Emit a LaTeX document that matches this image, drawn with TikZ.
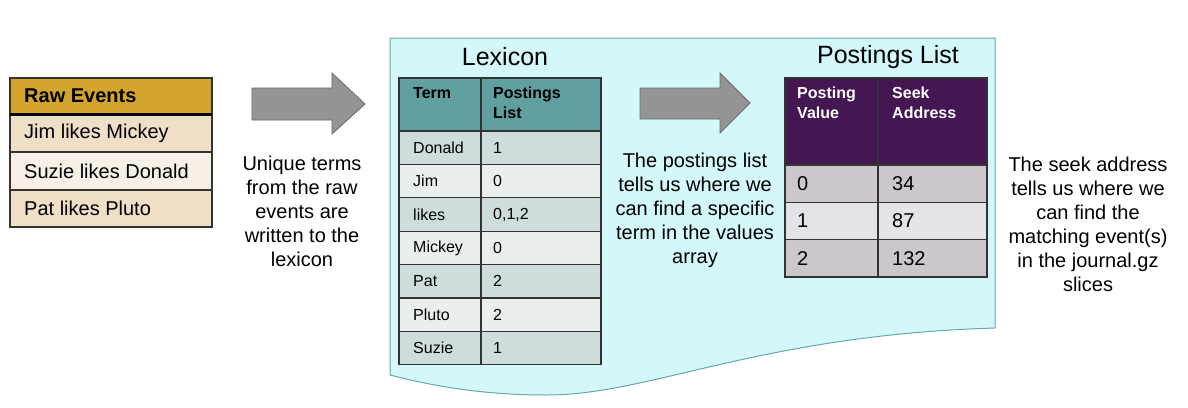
\documentclass[tikz,border=0pt]{standalone}
\usepackage{fontspec}
\setmainfont{Liberation Sans}
\definecolor{gold}{HTML}{D4A52C}
\definecolor{rawA}{HTML}{EEDFC6}
\definecolor{rawB}{HTML}{F6F0E7}
\definecolor{tealhd}{HTML}{609FA0}
\definecolor{lexA}{HTML}{CEDCDC}
\definecolor{lexB}{HTML}{E9EFEF}
\definecolor{purphd}{HTML}{441652}
\definecolor{posA}{HTML}{CBC7CC}
\definecolor{posB}{HTML}{E5E3E7}
\definecolor{cyanfill}{HTML}{D4F8F9}
\definecolor{cyanline}{HTML}{62A9AA}
\definecolor{linec}{HTML}{333333}
\definecolor{arrowfill}{HTML}{949494}
\definecolor{arrowline}{HTML}{6A6A6A}
\tikzset{
  cell/.style={draw=linec, line width=1.2pt, anchor=north west, inner sep=0pt, outer sep=0pt},
  celltxt/.style={anchor=west, inner sep=0pt, font=\fontsize{16}{19}\selectfont},
  bigtxt/.style={anchor=west, inner sep=0pt, font=\fontsize{20}{24}\selectfont},
  hdtxt/.style={anchor=north west, inner sep=0pt, align=left, font=\fontsize{16}{20}\selectfont\bfseries},
  note/.style={align=center, inner sep=0pt, font=\fontsize{20}{24}\selectfont},
  title/.style={inner sep=0pt, font=\fontsize{25}{30}\selectfont},
  bigarrow/.style={fill=arrowfill, draw=arrowline, line width=0.8pt, line join=miter},
  hdline/.style={line width=3pt, black}
}
\begin{document}
\begin{tikzpicture}[x=1pt,y=-1pt]
\useasboundingbox (0,0) rectangle (1188,407);

% cyan document shape
\draw[fill=cyanfill, draw=cyanline, line width=1pt]
  (390,38) -- (995,38) -- (995,328)
  .. controls (760,335) and (650,395) .. (547,395)
  .. controls (490,395) and (440,388) .. (390,375) -- cycle;

% Raw events table
\node[cell, fill=gold, minimum width=202, minimum height=36] (rawhd) at (10,78) {};
\node[cell, fill=rawA, minimum width=202, minimum height=38] (raw1) at (10,114) {};
\node[cell, fill=rawB, minimum width=202, minimum height=38] (raw2) at (10,152) {};
\node[cell, fill=rawA, minimum width=202, minimum height=37] (raw3) at (10,190) {};
\draw[hdline] (rawhd.south west) -- (rawhd.south east);
\node[bigtxt, font=\fontsize{20}{24}\selectfont\bfseries] (rawhdt) at ([xshift=14pt]rawhd.west) {Raw Events};
\node[bigtxt] (raw1t) at ([xshift=14pt]raw1.west) {Jim likes Mickey};
\node[bigtxt] (raw2t) at ([xshift=14pt]raw2.west) {Suzie likes Donald};
\node[bigtxt] (raw3t) at ([xshift=14pt]raw3.west) {Pat likes Pluto};

% arrow 1
\draw[bigarrow] (252,88) -- (332,88) -- (332,73) -- (365,104) -- (332,134) -- (332,120) -- (252,120) -- cycle;
\node[note] (note1) at (302,211) {Unique terms\\from the raw\\events are\\written to the\\lexicon};

% Lexicon
\node[title] (lextitle) at (505,57) {Lexicon};
\node[cell, fill=tealhd, minimum width=82, minimum height=53] (lexh1) at (399,78) {};
\node[cell, fill=tealhd, minimum width=120, minimum height=53] (lexh2) at (481,78) {};
\draw[hdline] (lexh1.south west) -- (lexh2.south east);
\node[hdtxt] (lexh1t) at ([xshift=14pt,yshift=-9pt]lexh1.north west) {Term};
\node[hdtxt] (lexh2t) at ([xshift=12pt,yshift=-9pt]lexh2.north west) {Postings\\List};

\foreach \i/\t/\v/\c in {0/Donald/1/lexA,1/Jim/0/lexB,2/likes/{0,1,2}/lexA,3/Mickey/0/lexB,4/Pat/2/lexA,5/Pluto/2/lexB,6/Suzie/1/lexA}{
  \node[cell, fill=\c, minimum width=82, minimum height=33.4] (lexa\i) at (399,131+33.4*\i) {};
  \node[cell, fill=\c, minimum width=120, minimum height=33.4] (lexb\i) at (481,131+33.4*\i) {};
  \node[celltxt] (lexat\i) at ([xshift=14pt]lexa\i.west) {\t};
  \node[celltxt] (lexbt\i) at ([xshift=12pt]lexb\i.west) {\v};
}

% arrow 2
\draw[bigarrow] (640,88) -- (720,88) -- (720,73) -- (750,103) -- (720,133) -- (720,119) -- (640,119) -- cycle;
\node[note] (note2) at (695,210) {The postings list\\tells us where we\\can find a specific\\term in the values\\array};

% Postings list
\node[title] (postitle) at (888,57) {Postings List};
\node[cell, fill=purphd, minimum width=93, minimum height=87] (posh1) at (785,78) {};
\node[cell, fill=purphd, minimum width=109, minimum height=87] (posh2) at (878,78) {};
\draw[hdline] (posh1.south west) -- (posh2.south east);
\node[hdtxt, text=white] (posh1t) at ([xshift=12pt,yshift=-9pt]posh1.north west) {Posting\\Value};
\node[hdtxt, text=white] (posh2t) at ([xshift=14pt,yshift=-9pt]posh2.north west) {Seek\\Address};

\foreach \i/\p/\s/\c in {0/0/34/posA,1/1/87/posB,2/2/132/posA}{
  \node[cell, fill=\c, minimum width=93, minimum height=37.3] (posa\i) at (785,165+37.3*\i) {};
  \node[cell, fill=\c, minimum width=109, minimum height=37.3] (posb\i) at (878,165+37.3*\i) {};
  \node[bigtxt] (posat\i) at ([xshift=12pt]posa\i.west) {\p};
  \node[bigtxt] (posbt\i) at ([xshift=14pt]posb\i.west) {\s};
}

\node[note] (note3) at (1088,224) {The seek address\\tells us where we\\can find the\\matching event(s)\\in the journal.gz\\slices};
\end{tikzpicture}
\end{document}
